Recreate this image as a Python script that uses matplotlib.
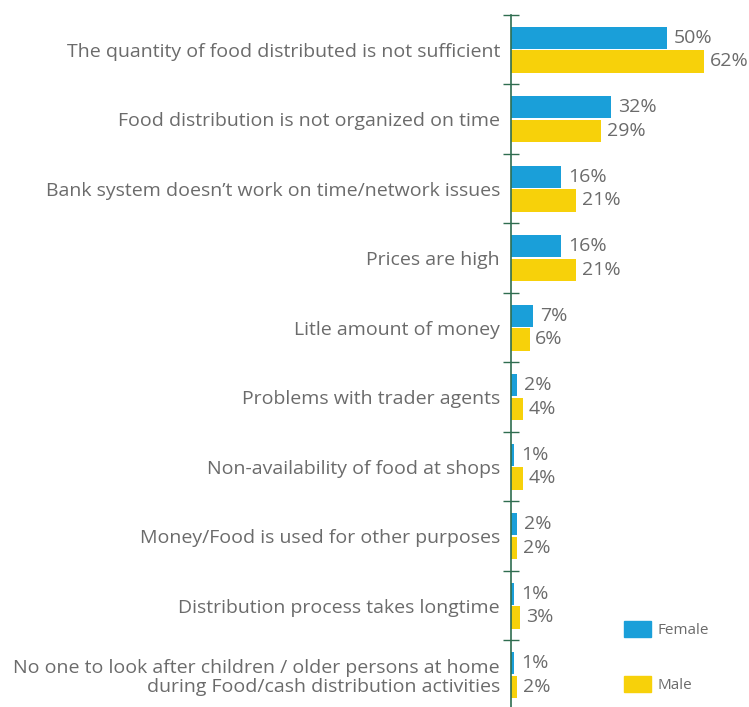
import numpy as np
import matplotlib.pyplot as plt
from matplotlib.patches import Patch

# Reported problems by sex (% of respondents)
problems = [
    "The quantity of food distributed is not sufficient",
    "Food distribution is not organized on time",
    "Bank system doesn\u2019t work on time/network issues",
    "Prices are high",
    "Litle amount of money",
    "Problems with trader agents",
    "Non-availability of food at shops",
    "Money/Food is used for other purposes",
    "Distribution process takes longtime",
    "No one to look after children / older persons at home\nduring Food/cash distribution activities",
]
female = [50, 32, 16, 16, 7, 2, 1, 2, 1, 1]
male = [62, 29, 21, 21, 6, 4, 4, 2, 3, 2]

BLUE = "#1a9fd9"
YELLOW = "#f7d10a"
GREY = "#6b6b6b"
AXIS_GREEN = "#2f6d50"

plt.rcParams['font.family'] = ['Open Sans', 'DejaVu Sans']

fig = plt.figure(figsize=(7.49, 7.07), dpi=100)
ax = fig.add_axes([511 / 749, -0.004, 1 - 511 / 749, 0.983])

n = len(problems)
y = np.arange(n)
h = 0.32
gap = 0.02
ax.barh(y - (h + gap) / 2, female, height=h, color=BLUE, label="Female")
ax.barh(y + (h + gap) / 2, male, height=h, color=YELLOW, label="Male")

for yi, f, m in zip(y, female, male):
    ax.text(f + 2.3, yi - (h + gap) / 2, f"{f}%", va="center", ha="left",
            fontsize=14, color=GREY)
    ax.text(m + 1.8, yi + (h + gap) / 2, f"{m}%", va="center", ha="left",
            fontsize=14, color=GREY)

ax.set_ylim(n - 0.5, -0.5)
ax.set_xlim(0, 76.5)
ax.set_yticks(y)
ax.set_yticklabels(problems, fontsize=14, color=GREY, linespacing=1.1)
ax.set_yticks(np.arange(n + 1) - 0.5, minor=True)
ax.tick_params(axis="y", which="major", length=0, pad=8)
ax.tick_params(axis="y", which="minor", length=11, direction="inout",
               color=AXIS_GREEN, width=1)
ax.set_xticks([])

for side in ["top", "right", "bottom"]:
    ax.spines[side].set_visible(False)
ax.spines["left"].set_color(AXIS_GREEN)
ax.spines["left"].set_linewidth(1.2)

handles = [Patch(color=BLUE, label="Female"), Patch(color=YELLOW, label="Male")]
fig.legend(handles=handles, loc="lower left", bbox_to_anchor=(610 / 749, 0.0),
           frameon=False, fontsize=11, labelcolor=GREY, handlelength=1.8,
           handleheight=1.2, labelspacing=2.5, handletextpad=0.4)

fig.savefig("out.png", dpi=100)
